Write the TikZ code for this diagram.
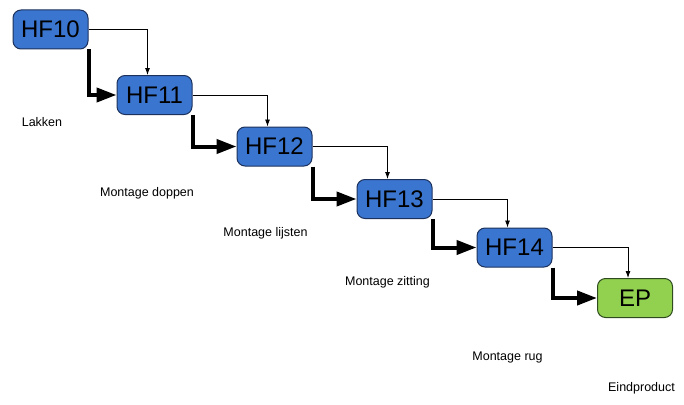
\documentclass[tikz,border=0pt]{standalone}
\usepackage{fontspec}
\setmainfont{Liberation Sans}
\usepackage{tikz}
\usetikzlibrary{arrows.meta}

\definecolor{hfblue}{RGB}{58,117,208}
\definecolor{hfborder}{RGB}{28,50,92}
\definecolor{epgreen}{RGB}{146,208,80}
\definecolor{epborder}{RGB}{45,75,30}

\tikzset{
  hfbox/.style={draw=hfborder,fill=hfblue,line width=1pt,rounded corners=8pt,
    minimum width=75pt,minimum height=39pt,inner sep=0pt,
    font=\fontsize{24}{24}\selectfont},
  epbox/.style={hfbox,draw=epborder,fill=epgreen},
  steplabel/.style={font=\fontsize{12.5}{14}\selectfont,inner sep=0pt},
  thinflow/.style={line width=0.8pt,-{Latex[length=7pt,width=5pt]}},
  thickflow/.style={line width=4pt,-{Triangle[length=20pt,width=14pt]}}
}

\begin{document}
\begin{tikzpicture}[x=1pt,y=-1pt]
\useasboundingbox (0,0) rectangle (684,404);
\node[hfbox] (hf10) at (50.5,29.5) {HF10};
\node[hfbox] (hf11) at (154.5,95) {HF11};
\node[hfbox] (hf12) at (274.5,146.5) {HF12};
\node[hfbox] (hf13) at (394.5,199) {HF13};
\node[hfbox] (hf14) at (514.5,247.5) {HF14};
\node[epbox] (ep) at (635,298) {EP};
\node[steplabel] (lakken) at (42,122) {Lakken};
\node[steplabel] (doppen) at (147,193) {Montage doppen};
\node[steplabel] (lijsten) at (265.5,233) {Montage lijsten};
\node[steplabel] (zitting) at (387.5,282) {Montage zitting};
\node[steplabel] (rug) at (507.5,357) {Montage rug};
\node[steplabel] (eind) at (641.5,388) {Eindproduct};
\draw[thinflow] (hf10.east) -| ([xshift=-7pt]hf11.north);
\draw[thinflow] (hf11.east) -| ([xshift=-7pt]hf12.north);
\draw[thinflow] (hf12.east) -| ([xshift=-7pt]hf13.north);
\draw[thinflow] (hf13.east) -| ([xshift=-7pt]hf14.north);
\draw[thinflow] (hf14.east) -| ([xshift=-7pt]ep.north);
\draw[thickflow] (hf10.south east) |- (hf11.west);
\draw[thickflow] (hf11.south east) |- (hf12.west);
\draw[thickflow] (hf12.south east) |- (hf13.west);
\draw[thickflow] (hf13.south east) |- (hf14.west);
\draw[thickflow] (hf14.south east) |- (ep.west);
\end{tikzpicture}
\end{document}
